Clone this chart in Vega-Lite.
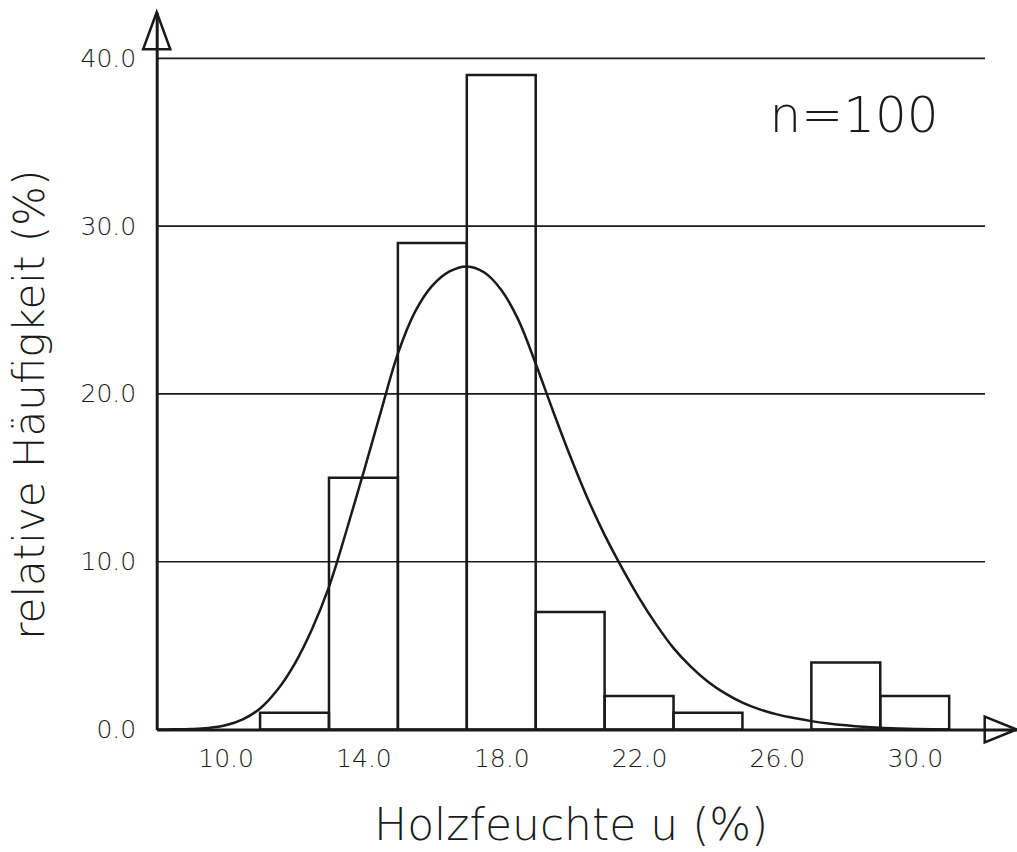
{
  "$schema": "https://vega.github.io/schema/vega-lite/v6.json",
  "autosize": {"type": "none"},
  "padding": {"left": 156.7, "top": 12.2, "right": 0.3, "bottom": 122.5},
  "width": 860,
  "height": 717.3,
  "background": "white",
  "datasets": {
    "bars": [
      {"x": 11, "x2": 13, "y": 1},
      {"x": 13, "x2": 15, "y": 15},
      {"x": 15, "x2": 17, "y": 29},
      {"x": 17, "x2": 19, "y": 39},
      {"x": 19, "x2": 21, "y": 7},
      {"x": 21, "x2": 23, "y": 2},
      {"x": 23, "x2": 25, "y": 1},
      {"x": 27, "x2": 29, "y": 4},
      {"x": 29, "x2": 31, "y": 2}
    ],
    "grid": [
      {"x": 8, "x2": 32.04, "y": 10},
      {"x": 8, "x2": 32.04, "y": 20},
      {"x": 8, "x2": 32.04, "y": 30},
      {"x": 8, "x2": 32.04, "y": 40}
    ],
    "curve": [
      {"x": 8.0, "y": 0}, {"x": 8.5, "y": 0.01}, {"x": 9.0, "y": 0.03}, {"x": 9.5, "y": 0.09},
      {"x": 10.0, "y": 0.25}, {"x": 10.5, "y": 0.6}, {"x": 11.0, "y": 1.25}, {"x": 11.5, "y": 2.35},
      {"x": 12.0, "y": 3.9}, {"x": 12.5, "y": 5.95}, {"x": 13.0, "y": 8.5}, {"x": 13.5, "y": 11.8},
      {"x": 14.0, "y": 15.3}, {"x": 14.5, "y": 18.9}, {"x": 15.0, "y": 22.4}, {"x": 15.5, "y": 24.9},
      {"x": 16.0, "y": 26.45}, {"x": 16.5, "y": 27.3}, {"x": 17.0, "y": 27.6}, {"x": 17.5, "y": 27.25},
      {"x": 18.0, "y": 26.2}, {"x": 18.5, "y": 24.4}, {"x": 19.0, "y": 21.8}, {"x": 19.5, "y": 19.0},
      {"x": 20.0, "y": 16.3}, {"x": 20.5, "y": 13.8}, {"x": 21.0, "y": 11.6}, {"x": 21.5, "y": 9.65},
      {"x": 22.0, "y": 7.85}, {"x": 22.5, "y": 6.25}, {"x": 23.0, "y": 4.85}, {"x": 23.5, "y": 3.75},
      {"x": 24.0, "y": 2.85}, {"x": 24.5, "y": 2.15}, {"x": 25.0, "y": 1.6}, {"x": 25.5, "y": 1.2},
      {"x": 26.0, "y": 0.9}, {"x": 26.5, "y": 0.68}, {"x": 27.0, "y": 0.5}, {"x": 27.5, "y": 0.36},
      {"x": 28.0, "y": 0.25}, {"x": 28.5, "y": 0.16}, {"x": 29.0, "y": 0.1}, {"x": 29.5, "y": 0.06},
      {"x": 30.0, "y": 0.03}, {"x": 30.5, "y": 0.01}, {"x": 31.0, "y": 0}
    ],
    "arrowUp": [{"x": 8, "y": 42.75}],
    "arrowRight": [{"x": 32.96, "y": 0}],
    "note": [{"x": 28.24, "y": 36.5, "label": "n=100"}]
  },
  "encoding": {
    "x": {
      "field": "x", "type": "quantitative",
      "scale": {"domain": [8, 32.96], "nice": false, "zero": false},
      "axis": {
        "values": [10, 14, 18, 22, 26, 30],
        "format": ".1f",
        "title": "Holzfeuchte u (%)",
        "grid": false, "ticks": false, "tickSize": 0,
        "domain": true, "domainColor": "#1a1a1a", "domainWidth": 3,
        "labelFont": "DejaVu Sans", "labelFontSize": 25, "labelFontWeight": 200, "labelColor": "#1a1a1a",
        "labelPadding": 17, "labelBaseline": "top",
        "titleFont": "DejaVu Sans", "titleFontSize": 44, "titleFontWeight": 200, "titleColor": "#1a1a1a",
        "titleAnchor": "start", "titleAlign": "center", "titleBaseline": "alphabetic",
        "titleX": 414, "titleY": 110
      }
    },
    "y": {
      "field": "y", "type": "quantitative",
      "scale": {"domain": [0, 42.75], "nice": false, "zero": false},
      "axis": {
        "values": [0, 10, 20, 30, 40],
        "format": ".1f",
        "title": "relative Häufigkeit (%)",
        "grid": false, "ticks": false, "tickSize": 0,
        "domain": true, "domainColor": "#1a1a1a", "domainWidth": 3,
        "labelFont": "DejaVu Sans", "labelFontSize": 25, "labelFontWeight": 200, "labelColor": "#1a1a1a",
        "labelPadding": 21,
        "titleFont": "DejaVu Sans", "titleFontSize": 42, "titleFontWeight": 200, "titleColor": "#1a1a1a",
        "titleAngle": -90, "titleAlign": "center", "titleBaseline": "alphabetic",
        "titleX": -113, "titleY": 392
      }
    }
  },
  "layer": [
    {
      "data": {"name": "grid"},
      "mark": {"type": "rule", "color": "#1a1a1a", "strokeWidth": 1.6},
      "encoding": {"x2": {"field": "x2"}}
    },
    {
      "data": {"name": "bars"},
      "mark": {"type": "rect", "fill": null, "fillOpacity": 0, "stroke": "#1a1a1a", "strokeWidth": 2.5},
      "encoding": {"x2": {"field": "x2"}, "y2": {"datum": 0}}
    },
    {
      "data": {"name": "curve"},
      "mark": {"type": "line", "color": "#1a1a1a", "strokeWidth": 2.5, "interpolate": "catmull-rom"}
    },
    {
      "data": {"name": "arrowUp"},
      "mark": {"type": "point", "shape": "M0,0L0.68,1.85L-0.68,1.85Z", "size": 1600, "filled": false, "stroke": "#1a1a1a", "strokeWidth": 2.5, "opacity": 1}
    },
    {
      "data": {"name": "arrowRight"},
      "mark": {"type": "point", "shape": "M0,0L-1.6,-0.65L-1.6,0.65Z", "size": 1600, "filled": false, "stroke": "#1a1a1a", "strokeWidth": 2.5, "opacity": 1}
    },
    {
      "data": {"name": "note"},
      "mark": {"type": "text", "font": "DejaVu Sans", "fontSize": 50, "fontWeight": 200, "color": "#1a1a1a", "align": "center", "baseline": "middle"},
      "encoding": {"text": {"field": "label"}}
    }
  ],
  "config": {
    "view": {"stroke": null}
  }
}
